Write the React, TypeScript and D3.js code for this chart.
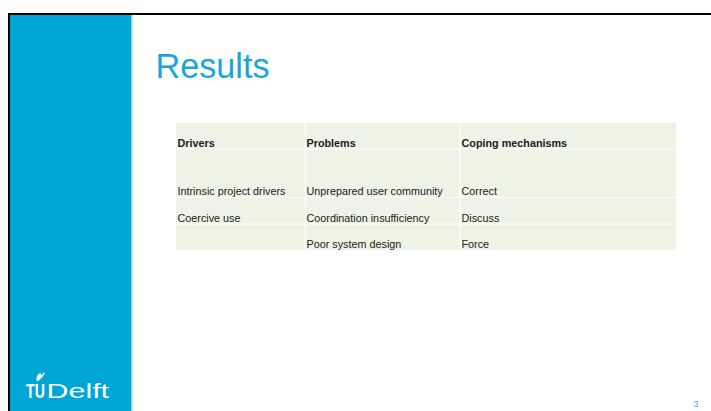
import React from "react";
import * as d3 from "d3";

const title = "Results";
const headers = ["Drivers", "Problems", "Coping mechanisms"];
const drivers = ["Intrinsic project drivers", "Coercive use", ""];
const problems = ["Unprepared user community", "Coordination insufficiency", "Poor system design"];
const coping = ["Correct", "Discuss", "Force"];
const pageNumber = "3";

const W = 711, H = 411;
const colEdges = [176, 305, 460, 676];
const rowEdges = [123, 149, 197.5, 224, 250];
const FONT = "'Liberation Sans', Arial, Helvetica, sans-serif";
const BLUE = "#00a6d6";

export default function App() {
  const cols = [drivers, problems, coping];
  const rows = d3.range(drivers.length).map((i) => cols.map((c) => c[i]));
  const allRows = [headers, ...rows];
  const x = d3.scaleOrdinal<number, number>().domain(d3.range(3)).range(colEdges.slice(0, 3));
  const yB = d3.scaleOrdinal<number, number>().domain(d3.range(allRows.length)).range(rowEdges.slice(1));

  return (
    <svg width={W} height={H} style={{ position: "fixed", left: 0, top: 0, display: "block" }} fontFamily={FONT}>
      <rect x={0} y={0} width={W} height={H} fill="#fff" />
      {/* slide border */}
      <rect x={8} y={13} width={W - 8} height={2} fill="#000" />
      <rect x={8} y={13} width={2} height={H - 13} fill="#000" />
      {/* blue panel */}
      <rect x={10} y={15} width={121.5} height={H - 15} fill={BLUE} />
      <rect x={131.5} y={15} width={1} height={H - 15} fill="#8fd3ec" />
      {/* title */}
      <text x={155.5} y={77.5} fontSize={34.2} fill="#19a5da">{title}</text>
      {/* table */}
      <rect x={colEdges[0]} y={rowEdges[0]} width={colEdges[3] - colEdges[0]} height={rowEdges[4] - rowEdges[0]} fill="#eef3e6" />
      {rowEdges.slice(1, 4).map((y, i) => (
        <line key={"h" + i} x1={colEdges[0]} x2={colEdges[3]} y1={y} y2={y} stroke="#fff" strokeWidth={1} />
      ))}
      {colEdges.slice(1, 3).map((cx, i) => (
        <line key={"v" + i} x1={cx} x2={cx} y1={rowEdges[0]} y2={rowEdges[4]} stroke="#fff" strokeWidth={1} />
      ))}
      {allRows.map((r, ri) =>
        r.map((t, ci) =>
          t ? (
            <text
              key={ri + "-" + ci}
              x={x(ci) + 1.5}
              y={yB(ri) - 2.5}
              fontSize={10.8}
              fontWeight={ri === 0 ? "bold" : "normal"}
              fill="#222"
            >
              {t}
            </text>
          ) : null
        )
      )}
      {/* logo */}
      <path
        d="M36.5,381 C36,377 38,374 41,372.5 C40,374 40.5,375 41.5,375 C42.5,373.5 44,372.8 45.5,372.5 C44,374 43.5,376 42,377.5 C40.5,379 39,379.5 38.5,381 Z M38,378.5 L36.5,376.5 L38.5,377 Z"
        fill="#fff"
      />
      <text transform="translate(26,397.7) scale(0.69,1)" fontSize={20.5} fontWeight="bold" fill="#fff">TU</text>
      <text transform="translate(46.5,397.7) scale(1.45,1)" fontSize={21} fill="#fff">Delft</text>
      {/* page number */}
      <text x={693.5} y={407} fontSize={9} fill="#3db7e4">{pageNumber}</text>
    </svg>
  );
}
